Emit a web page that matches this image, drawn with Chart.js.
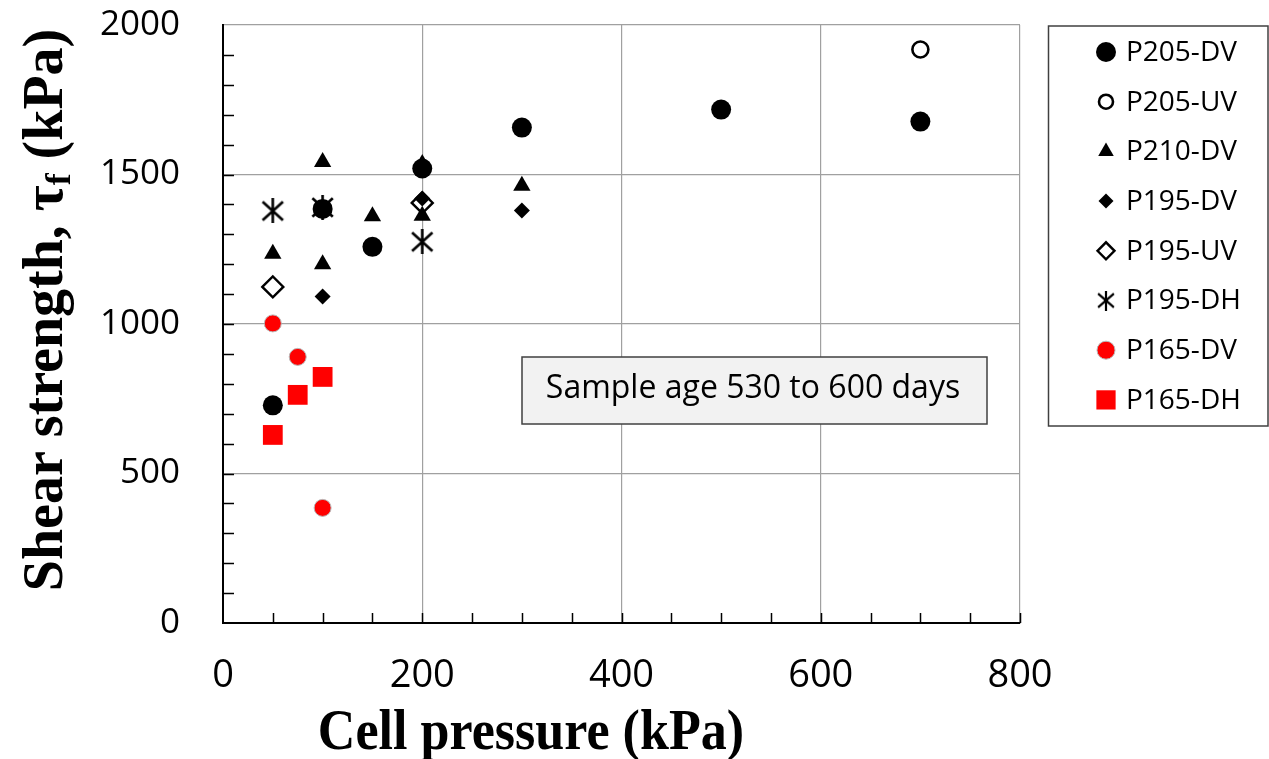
<!DOCTYPE html>
<html>
<head>
<meta charset="utf-8">
<script src="https://cdn.jsdelivr.net/npm/chart.js@4.4.0/dist/chart.umd.min.js"></script>
<style>
  html, body { margin: 0; padding: 0; background: #fff; }
</style>
</head>
<body>
<canvas id="shearChart" width="1269" height="759"></canvas>
<script>
// cell pressure (kPa) vs shear strength (kPa), one pair of arrays per sample
const p205dvX = [50, 100, 150, 200, 300, 500, 700];
const p205dvY = [728, 1385, 1258, 1520, 1657, 1717, 1677];
const p205uvX = [700];
const p205uvY = [1918];
const p210dvX = [50, 100, 100, 150, 200, 200, 300];
const p210dvY = [1235, 1542, 1200, 1360, 1535, 1362, 1462];
const p195dvX = [100, 200, 300];
const p195dvY = [1092, 1420, 1380];
const p195uvX = [50, 200];
const p195uvY = [1124, 1405];
const p195dhX = [50, 100, 200];
const p195dhY = [1378, 1390, 1275];
const p165dvX = [50, 75, 100];
const p165dvY = [1002, 890, 385];
const p165dhX = [50, 75, 100];
const p165dhY = [629, 763, 823];

const xTicks = [0, 200, 400, 600, 800];
const yTicks = [0, 500, 1000, 1500, 2000];
const noteText = 'Sample age 530 to 600 days';

function makeAsterisk(size, lw) {
    const c = document.createElement('canvas');
    c.width = size; c.height = size;
    const g = c.getContext('2d');
    g.strokeStyle = '#000';
    g.lineWidth = lw;
    const m = lw / 2 + 1, s = size - m;
    g.beginPath();
    g.moveTo(m, m + 1); g.lineTo(s, s - 1);
    g.moveTo(s, m + 1); g.lineTo(m, s - 1);
    g.moveTo(size / 2, 0); g.lineTo(size / 2, size);
    g.stroke();
    return c;
}
const starBig = makeAsterisk(25, 2.6);
const starSmall = makeAsterisk(20, 2.2);

const toPts = (xs, ys) => xs.map((x, i) => ({ x: x, y: ys[i] }));

const series = [
    { label: 'P205-DV', data: toPts(p205dvX, p205dvY), pointStyle: 'circle', radius: 10, bg: '#000', border: '#000', bw: 0, legR: 10 },
    { label: 'P205-UV', data: toPts(p205uvX, p205uvY), pointStyle: 'circle', radius: 8, bg: '#fff', border: '#000', bw: 2.6, legR: 7 },
    { label: 'P210-DV', data: toPts(p210dvX, p210dvY), pointStyle: 'triangle', radius: 10, bg: '#000', border: '#000', bw: 0, legR: 9 },
    { label: 'P195-DV', data: toPts(p195dvX, p195dvY), pointStyle: 'rectRot', radius: 8, bg: '#000', border: '#000', bw: 0, legR: 7.5 },
    { label: 'P195-UV', data: toPts(p195uvX, p195uvY), pointStyle: 'rectRot', radius: 10.5, bg: '#fff', border: '#000', bw: 2.4, legR: 8.5 },
    { label: 'P195-DH', data: toPts(p195dhX, p195dhY), pointStyle: starBig, legStyle: starSmall, radius: 12, bg: '#000', border: '#000', bw: 0, legR: 10 },
    { label: 'P165-DV', data: toPts(p165dvX, p165dvY), pointStyle: 'circle', radius: 8.5, bg: '#ff0000', border: '#b8b8b8', bw: 1, legR: 9 },
    { label: 'P165-DH', data: toPts(p165dhX, p165dhY), pointStyle: 'rect', radius: 14, bg: '#ff0000', border: '#ff0000', bw: 0, legR: 13.6 }
];

// minor tick marks inside the plot, Excel style, plus the note box
const minorTicks = {
    id: 'minorTicks',
    beforeDatasetsDraw(chart) {
        const { ctx, chartArea: a, scales: { x, y } } = chart;
        ctx.save();
        ctx.strokeStyle = '#000';
        ctx.lineWidth = 1.5;
        ctx.beginPath();
        for (let v = 100; v < 2000; v += 100) {
            const py = Math.round(y.getPixelForValue(v)) + 0.5;
            ctx.moveTo(a.left, py); ctx.lineTo(a.left + 11, py);
        }
        for (let v = 50; v <= 800; v += 50) {
            const px = Math.round(x.getPixelForValue(v)) + 0.5;
            ctx.moveTo(px, a.bottom); ctx.lineTo(px, a.bottom - 10);
        }
        ctx.stroke();

        ctx.fillStyle = '#f2f2f2';
        ctx.fillRect(522, 357, 465, 67);
        ctx.strokeStyle = '#404040';
        ctx.lineWidth = 1.5;
        ctx.strokeRect(522, 357, 465, 67);
        ctx.fillStyle = '#000';
        ctx.font = '32px "Open Sans"';
        ctx.textAlign = 'center';
        ctx.textBaseline = 'middle';
        ctx.fillText(noteText, 753, 389);
        ctx.restore();
    }
};

const legendAndTitles = {
    id: 'legendAndTitles',
    afterDraw(chart) {
        const ctx = chart.ctx;
        ctx.save();
        // legend
        ctx.strokeStyle = '#404040';
        ctx.lineWidth = 1.5;
        ctx.strokeRect(1048.5, 26, 219.5, 400);
        series.forEach((s, i) => {
            const cy = 52 + i * 49.7;
            ctx.fillStyle = s.bg;
            ctx.strokeStyle = s.border;
            ctx.lineWidth = s.bw;
            Chart.helpers.drawPoint(ctx, { pointStyle: s.legStyle || s.pointStyle, radius: s.legR, borderWidth: s.bw, rotation: 0 }, 1106, cy);
            ctx.fillStyle = '#000';
            ctx.font = '28px "Open Sans"';
            ctx.textAlign = 'left';
            ctx.textBaseline = 'middle';
            ctx.fillText(s.label, 1126, cy + 1);
        });

        // x title
        ctx.fillStyle = '#000';
        ctx.font = 'bold 56px "Liberation Serif"';
        ctx.textBaseline = 'alphabetic';
        ctx.save();
        ctx.translate(531, 749);
        ctx.scale(0.93, 1);
        ctx.textAlign = 'center';
        ctx.fillText('Cell pressure (kPa)', 0, 0);
        ctx.restore();

        // y title with subscript f
        const p1 = 'Shear strength, τ', p2 = 'f', p3 = ' (kPa)';
        const big = 'bold 56px "Liberation Serif"', small = 'bold 36px "Liberation Serif"';
        ctx.font = big;
        const w1 = ctx.measureText(p1).width, w3 = ctx.measureText(p3).width;
        ctx.font = small;
        const w2 = ctx.measureText(p2).width;
        const total = w1 + w2 + w3;
        ctx.translate(62, 310);
        ctx.rotate(-Math.PI / 2);
        ctx.textAlign = 'left';
        const x0 = -total / 2;
        ctx.font = big;
        ctx.fillText(p1, x0, 0);
        ctx.font = small;
        ctx.fillText(p2, x0 + w1, 8);
        ctx.font = big;
        ctx.fillText(p3, x0 + w1 + w2, 0);
        ctx.restore();
    }
};

const gridColor = (c) => (c.tick && c.tick.value === 0) ? 'rgba(0,0,0,0)' : '#a0a0a0';
const noPad = (s) => { s.paddingTop = 0; s.paddingBottom = 0; s.paddingLeft = 0; s.paddingRight = 0; };

new Chart(document.getElementById('shearChart').getContext('2d'), {
    type: 'scatter',
    data: {
        datasets: series.map(s => ({
            label: s.label,
            data: s.data,
            pointStyle: s.pointStyle,
            pointRadius: s.radius,
            pointHoverRadius: s.radius,
            backgroundColor: s.bg,
            borderColor: s.border,
            pointBorderWidth: s.bw,
            borderWidth: s.bw,
            showLine: false
        }))
    },
    options: {
        responsive: false,
        animation: false,
        events: [],
        layout: { padding: { top: 25, right: 249, left: 0, bottom: 0 } },
        scales: {
            x: {
                type: 'linear', min: 0, max: 800,
                afterFit: (s) => { s.height = 136; noPad(s); },
                afterBuildTicks: (s) => { s.ticks = xTicks.map(v => ({ value: v })); },
                ticks: { color: '#000', padding: 30, font: { family: 'Open Sans', size: 38 }, callback: (v) => String(v) },
                grid: { color: gridColor, lineWidth: 1.2, drawTicks: false },
                border: { color: '#000', width: 2 }
            },
            y: {
                type: 'linear', min: 0, max: 2000,
                afterFit: (s) => { s.width = 223; noPad(s); },
                afterBuildTicks: (s) => { s.ticks = yTicks.map(v => ({ value: v })); },
                ticks: { color: '#000', padding: 43, font: { family: 'Open Sans', size: 35 }, callback: (v) => String(v) },
                grid: { color: gridColor, lineWidth: 1.2, drawTicks: false },
                border: { color: '#000', width: 2 }
            }
        },
        plugins: { legend: { display: false }, tooltip: { enabled: false } }
    },
    plugins: [minorTicks, legendAndTitles]
});
</script>
</body>
</html>
